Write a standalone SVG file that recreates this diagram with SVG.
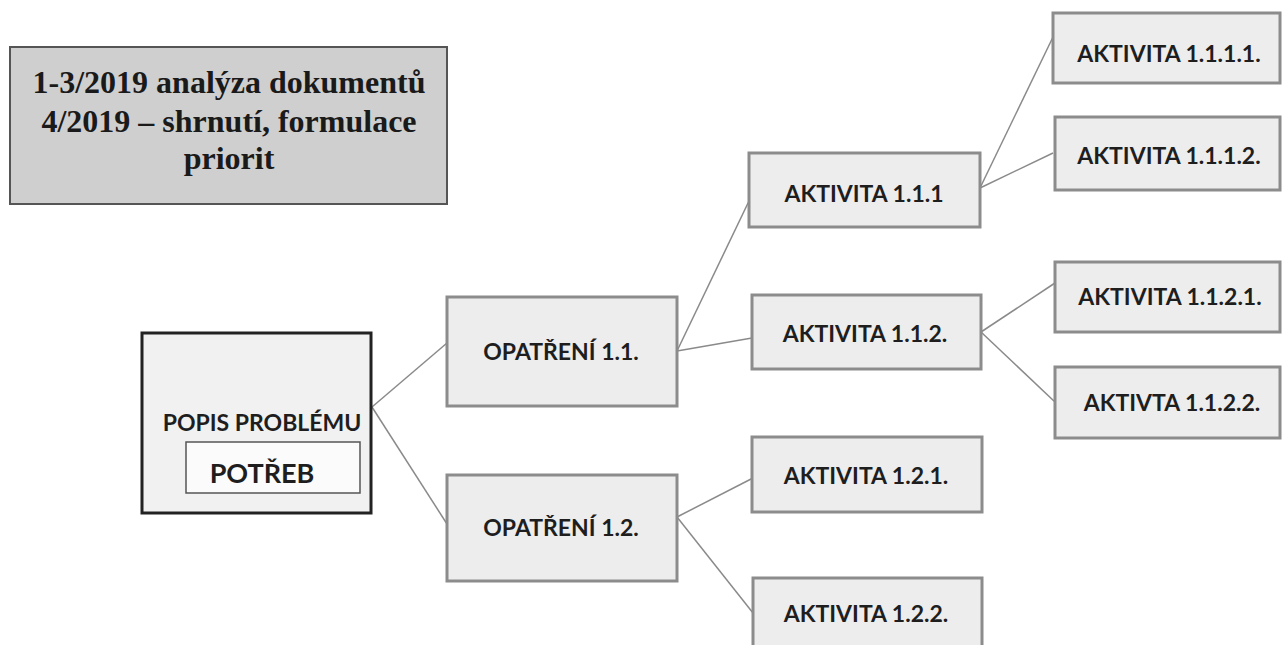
<svg xmlns="http://www.w3.org/2000/svg" width="1282" height="645" viewBox="0 0 1282 645">
<style>
.box{fill:#ededed;stroke:#8c8c8c;stroke-width:3}
.lbl{font-family:Lato,"Open Sans","Liberation Sans",sans-serif;font-weight:bold;font-size:23px;fill:#1e1e1e;text-anchor:middle}
.con line{stroke:#8a8a8a;stroke-width:1.5}
.title{font-family:"Liberation Serif","Times New Roman",serif;font-weight:bold;font-size:32px;fill:#1a1a1a;text-anchor:middle}
</style>
<rect width="1282" height="645" fill="#ffffff"/>
<g id="title">
<rect x="10" y="47" width="437" height="157" fill="#cfcfcf" stroke="#555" stroke-width="2"/>
<text class="title" x="229" y="93">1-3/2019 analýza dokumentů</text>
<text class="title" x="229" y="132">4/2019 – shrnutí, formulace</text>
<text class="title" x="229" y="169">priorit</text>
</g>
<g class="con" id="connectors">
<line x1="372" y1="407" x2="447" y2="343"/>
<line x1="372" y1="407" x2="447" y2="524"/>
<line x1="677" y1="351" x2="749" y2="201"/>
<line x1="677" y1="351" x2="752" y2="338"/>
<line x1="677" y1="517" x2="753" y2="478"/>
<line x1="677" y1="517" x2="753" y2="613"/>
<line x1="980" y1="188" x2="1053" y2="37"/>
<line x1="980" y1="188" x2="1053" y2="153"/>
<line x1="981" y1="332" x2="1055" y2="283"/>
<line x1="981" y1="332" x2="1055" y2="402"/>
</g>
<g id="popis">
<rect x="142" y="333" width="229" height="180" fill="#f1f1f1" stroke="#222" stroke-width="3"/>
<text class="lbl" x="262" y="431">POPIS PROBLÉMU</text>
<rect x="186" y="442" width="174" height="51" fill="#fbfbfb" stroke="#555" stroke-width="1.5"/>
<text class="lbl" x="262" y="483" style="font-size:27px">POTŘEB</text>
</g>
<g id="opatreni11">
<rect class="box" x="447" y="297" width="230" height="109"/>
<text class="lbl" x="561" y="360">OPATŘENÍ 1.1.</text>
</g>
<g id="opatreni12">
<rect class="box" x="447" y="475" width="230" height="106"/>
<text class="lbl" x="561" y="536">OPATŘENÍ 1.2.</text>
</g>
<g id="akt111">
<rect class="box" x="749" y="153" width="231" height="74"/>
<text class="lbl" x="864" y="202">AKTIVITA 1.1.1</text>
</g>
<g id="akt112">
<rect class="box" x="752" y="295" width="229" height="74"/>
<text class="lbl" x="865" y="342">AKTIVITA 1.1.2.</text>
</g>
<g id="akt121">
<rect class="box" x="752" y="437" width="230" height="75"/>
<text class="lbl" x="866" y="484">AKTIVITA 1.2.1.</text>
</g>
<g id="akt122">
<rect class="box" x="753" y="578" width="229" height="73"/>
<text class="lbl" x="866" y="622">AKTIVITA 1.2.2.</text>
</g>
<g id="akt1111">
<rect class="box" x="1053" y="13" width="227" height="70"/>
<text class="lbl" x="1169" y="62">AKTIVITA 1.1.1.1.</text>
</g>
<g id="akt1112">
<rect class="box" x="1055" y="117" width="225" height="73"/>
<text class="lbl" x="1169" y="164">AKTIVITA 1.1.1.2.</text>
</g>
<g id="akt1121">
<rect class="box" x="1055" y="262" width="225" height="70"/>
<text class="lbl" x="1170" y="305">AKTIVITA 1.1.2.1.</text>
</g>
<g id="akt1122">
<rect class="box" x="1055" y="367" width="225" height="71"/>
<text class="lbl" x="1172" y="411">AKTIVTA 1.1.2.2.</text>
</g>
</svg>
